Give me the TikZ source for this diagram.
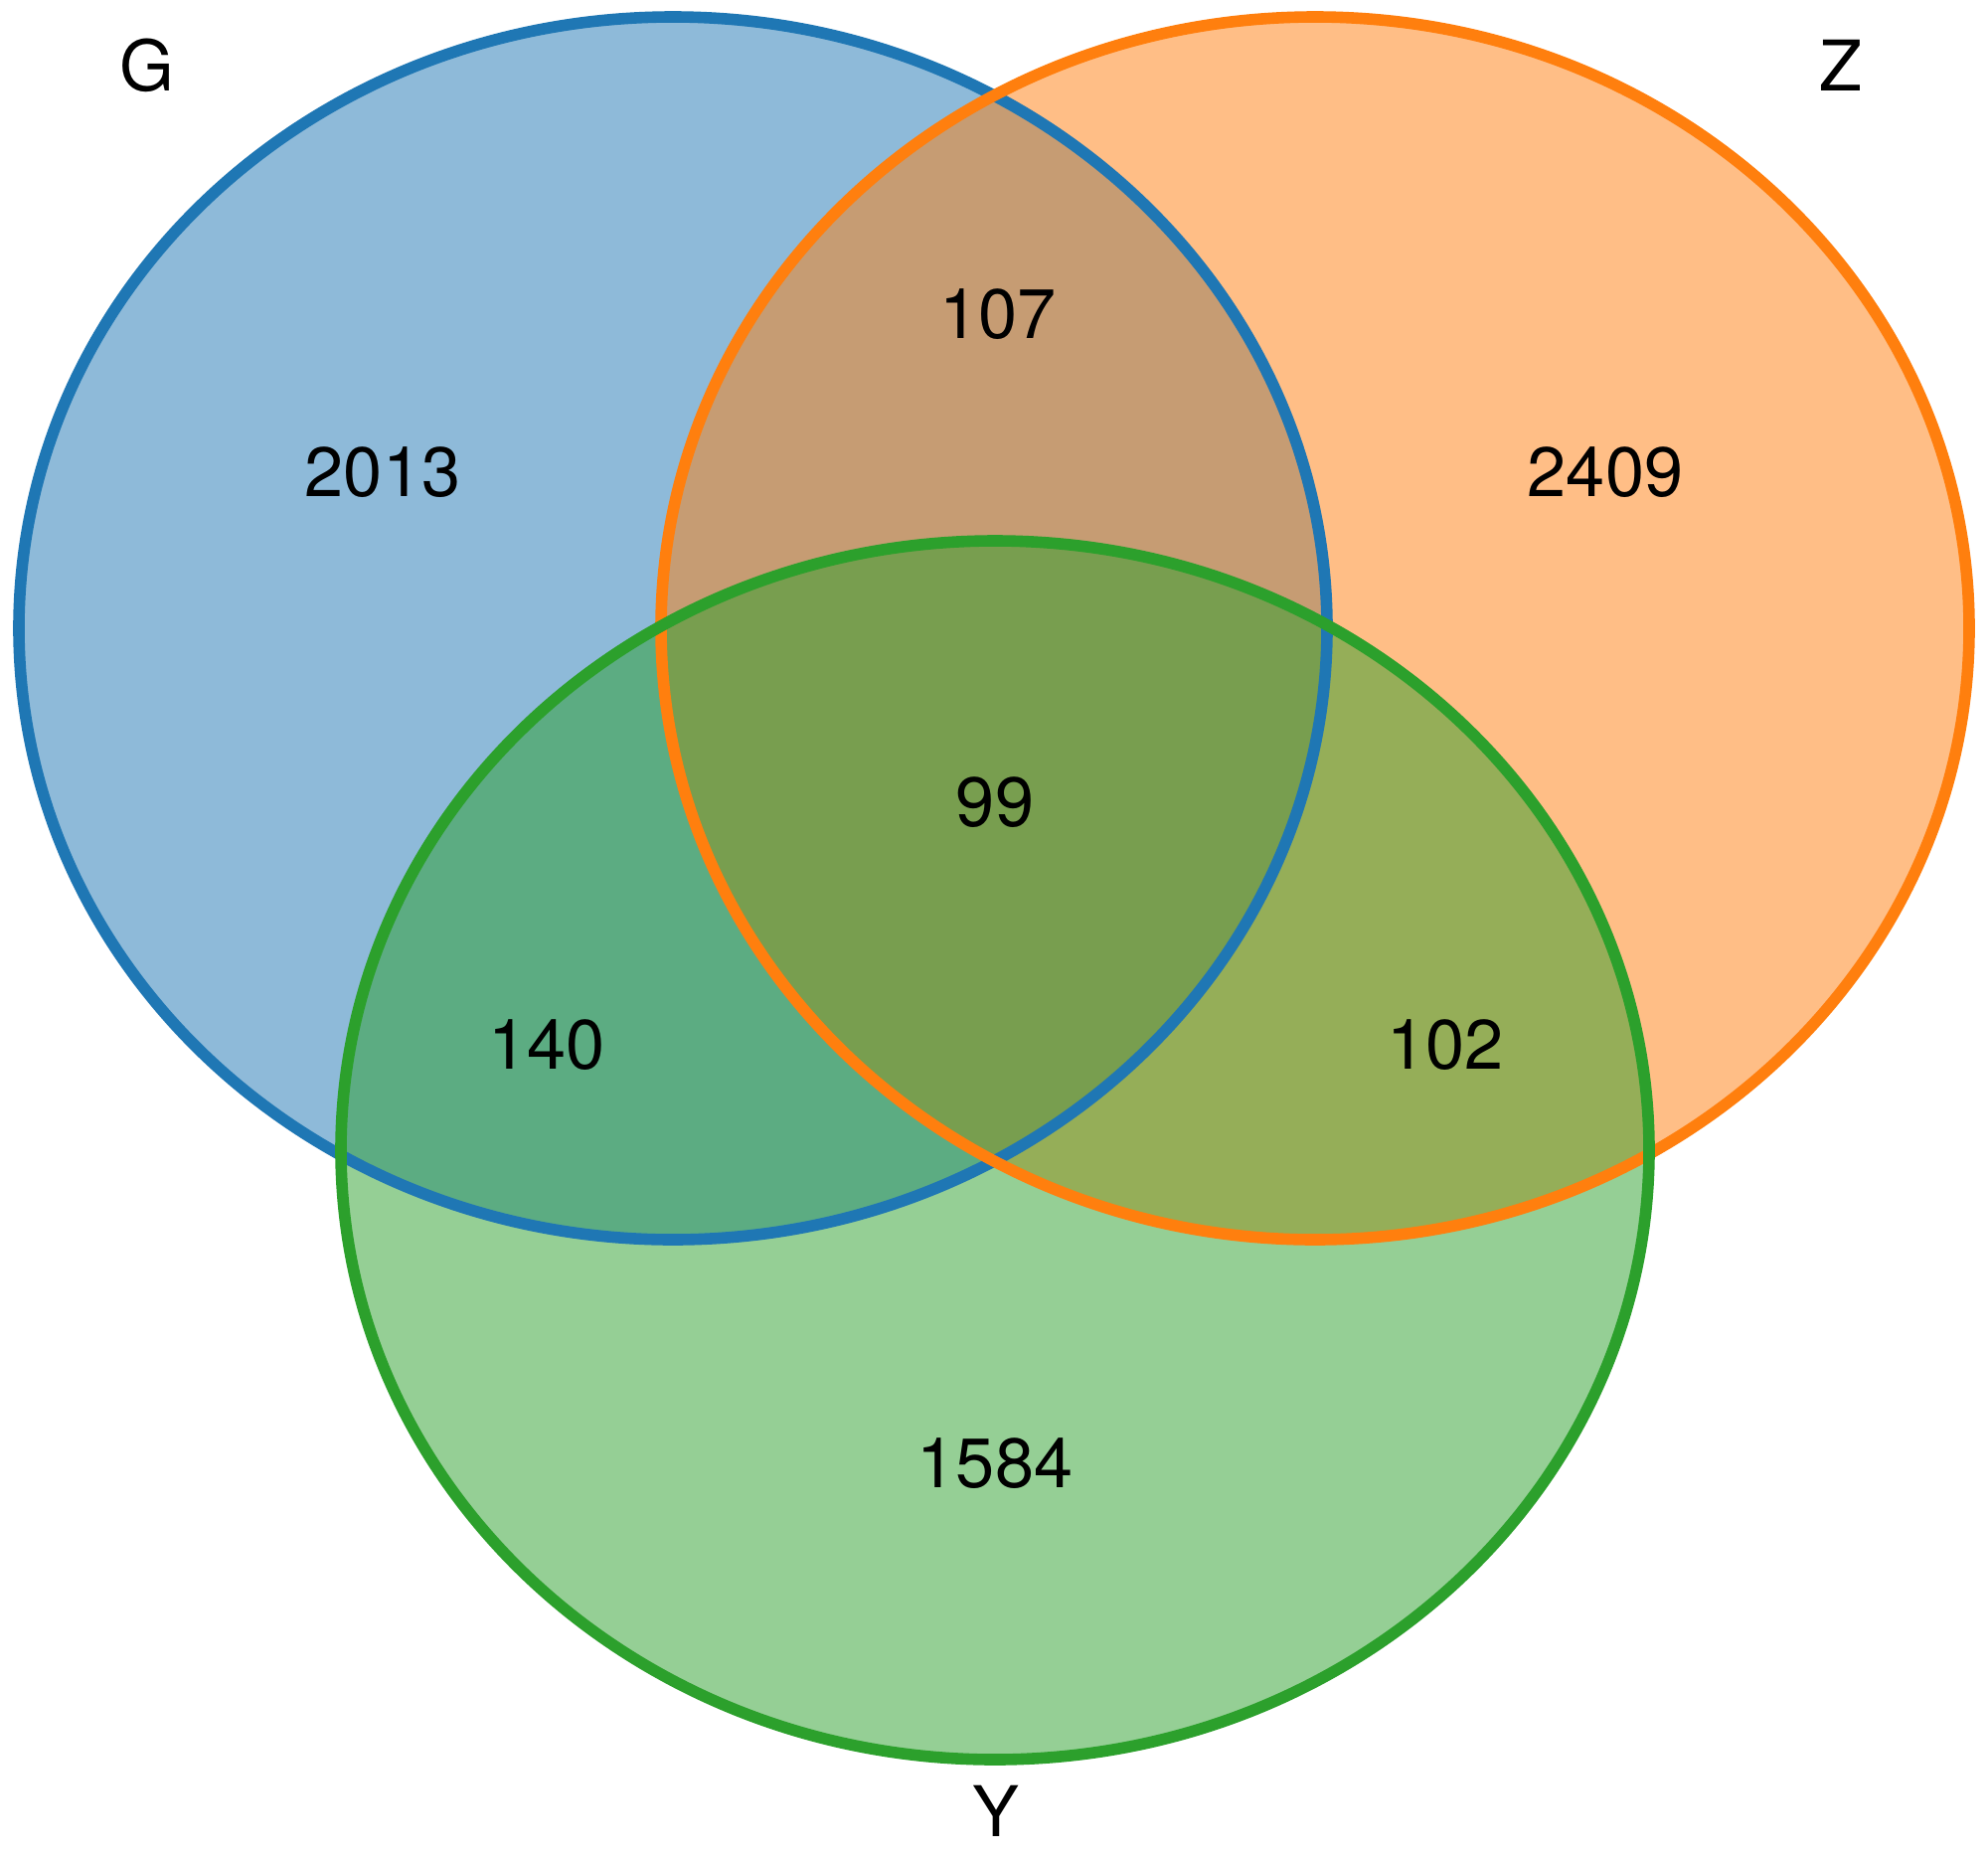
\documentclass[tikz,border=0pt]{standalone}
\usepackage{fontspec}
\setmainfont{TeX Gyre Heros}
\definecolor{vblue}{HTML}{1F77B4}
\definecolor{vorange}{HTML}{FF7F0E}
\definecolor{vgreen}{HTML}{2CA02C}
\begin{document}
\begin{tikzpicture}[x=0.01cm,y=-0.01cm,
  setfill/.style={fill=#1,fill opacity=0.5},
  setline/.style={draw=#1,line width=3.3pt},
  lbl/.style={font=\fontsize{20}{24}\selectfont,text=black,inner sep=0pt}]
\useasboundingbox[fill=white] (0,0) rectangle (2000,1866);
% fills
\fill[setfill=vblue] (677,632) ellipse [x radius=658, y radius=615];
\fill[setfill=vorange] (1323,632) ellipse [x radius=658, y radius=615];
\fill[setfill=vgreen] (1001,1157) ellipse [x radius=658, y radius=613];
% outlines
\draw[setline=vblue] (677,632) ellipse [x radius=658, y radius=615];
\draw[setline=vorange] (1323,632) ellipse [x radius=658, y radius=615];
\draw[setline=vgreen] (1001,1157) ellipse [x radius=658, y radius=613];
% set labels
\node[lbl] (lG) at (148,66) {G};
\node[lbl] (lZ) at (1852,66) {Z};
\node[lbl] (lY) at (1002,1822) {Y};
% region counts
\node[lbl] (nG) at (385,475) {2013};
\node[lbl] (nGZ) at (1004,316) {107};
\node[lbl] (nZ) at (1615,475) {2409};
\node[lbl] (nGZY) at (1001,807) {99};
\node[lbl] (nGY) at (550,1051) {140};
\node[lbl] (nZY) at (1454,1051) {102};
\node[lbl] (nY) at (1001,1472) {1584};
\end{tikzpicture}
\end{document}
